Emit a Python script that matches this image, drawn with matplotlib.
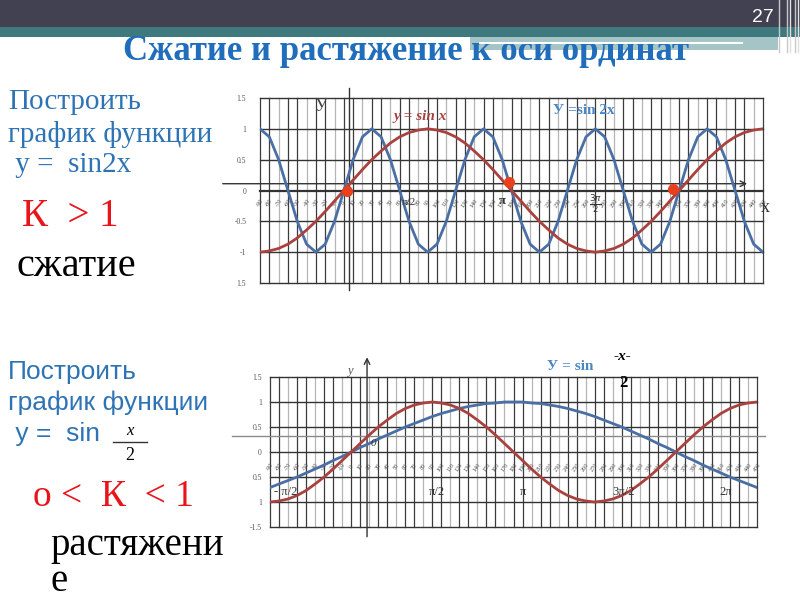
import matplotlib
matplotlib.use('Agg')
import matplotlib.pyplot as plt
from matplotlib.patches import Rectangle
from matplotlib.lines import Line2D

# ---------------- data ----------------
x_deg = [-90, -80, -70, -60, -50, -40, -30, -20, -10, 0, 10, 20, 30, 40, 50, 60, 70, 80, 90,
         100, 110, 120, 130, 140, 150, 160, 170, 180, 190, 200, 210, 220, 230, 240, 250, 260,
         270, 280, 290, 300, 310, 320, 330, 340, 350, 360, 370, 380, 390, 400, 410, 420, 430,
         440, 450]

sin_x = [-1.0, -0.98, -0.94, -0.87, -0.77, -0.64, -0.5, -0.34, -0.17, 0.0, 0.17, 0.34, 0.5,
         0.64, 0.77, 0.87, 0.94, 0.98, 1.0, 0.98, 0.94, 0.87, 0.77, 0.64, 0.5, 0.34, 0.17, 0.0,
         -0.17, -0.34, -0.5, -0.64, -0.77, -0.87, -0.94, -0.98, -1.0, -0.98, -0.94, -0.87,
         -0.77, -0.64, -0.5, -0.34, -0.17, 0.0, 0.17, 0.34, 0.5, 0.64, 0.77, 0.87, 0.94, 0.98,
         1.0]

blue_top = [1.0, 0.87, 0.5, 0.0, -0.5, -0.87, -1.0, -0.87, -0.5, 0.0, 0.5, 0.87,
            1.0, 0.87, 0.5, 0.0, -0.5, -0.87, -1.0, -0.87, -0.5, 0.0, 0.5, 0.87,
            1.0, 0.87, 0.5, 0.0, -0.5, -0.87, -1.0, -0.87, -0.5, 0.0, 0.5, 0.87,
            1.0, 0.87, 0.5, 0.0, -0.5, -0.87, -1.0, -0.87, -0.5, 0.0, 0.5, 0.87,
            1.0, 0.87, 0.5, 0.0, -0.5, -0.87, -1.0]

sin_half_x = [-0.71, -0.64, -0.57, -0.5, -0.42, -0.34, -0.26, -0.17, -0.09, 0.0, 0.09, 0.17,
              0.26, 0.34, 0.42, 0.5, 0.57, 0.64, 0.71, 0.77, 0.82, 0.87, 0.91, 0.94, 0.97,
              0.98, 1.0, 1.0, 1.0, 0.98, 0.97, 0.94, 0.91, 0.87, 0.82, 0.77, 0.71, 0.64, 0.57,
              0.5, 0.42, 0.34, 0.26, 0.17, 0.09, 0.0, -0.09, -0.17, -0.26, -0.34, -0.42, -0.5,
              -0.57, -0.64, -0.71]

ytick_vals = [1.5, 1.0, 0.5, 0.0, -0.5, -1.0, -1.5]
top_ytick_labels = ['1.5', '1', '0.5', '0', '-0.5', '-1', '1.5']
bot_ytick_labels = ['1.5', '1', '0.5', '0', '0.5', '1', '-1.5']

dot_x = [3, 177, 353]
dot_y = [0.0, 0.13, 0.03]

bot_pi_labels = ['- π/2', 'π/2', 'π', '3π/2', '2π']
bot_pi_x = [-73, 95, 190, 302, 415]

RED = '#A9423F'
BLUE = '#4A6FA5'
TITLE_BLUE = '#1F6DBB'
TEXT_BLUE = '#2E74B5'
SERIF = 'Liberation Serif'
SANS = 'Liberation Sans'

fig = plt.figure(figsize=(8, 6), dpi=100)
fig.patch.set_facecolor('white')


def fx(px):
    return px / 800.0


def fy(py):
    return 1.0 - py / 600.0


def frect(x0, y0, x1, y1, color, z=0):
    fig.add_artist(Rectangle((fx(x0), fy(y1)), fx(x1) - fx(x0), fy(y0) - fy(y1),
                             transform=fig.transFigure, facecolor=color, edgecolor='none',
                             zorder=z))


def fline(x0, y0, x1, y1, color, lw, z=1):
    fig.add_artist(Line2D([fx(x0), fx(x1)], [fy(y0), fy(y1)], transform=fig.transFigure,
                          color=color, lw=lw, zorder=z))


# ---------------- header ----------------
frect(0, 0, 800, 27, '#414152')
frect(0, 27, 800, 37, '#3E7A7D')
frect(470, 37, 778, 50, '#A4C4C5')
fline(480, 43, 742, 43, 'white', 1.5, z=3)
for vx, c in [(779, '#C8C8C8'), (787, '#C8C8C8'), (790, '#E0E0E0'), (795, '#C8C8C8'),
              (798, '#E0E0E0')]:
    fline(vx, 0, vx, 52, c, 1.0, z=2)
fig.text(fx(763), fy(18), '27', color='white', fontsize=14, family=SANS,
         ha='center', va='center')
fig.text(fx(406), fy(52), 'Сжатие и растяжение к оси ординат', color=TITLE_BLUE,
         fontsize=25, family=SERIF, weight='bold', ha='center', va='center', zorder=2)

# ---------------- left texts ----------------
fig.text(fx(8), fy(102), 'Построить', color=TEXT_BLUE, fontsize=21, family=SERIF, va='center')
fig.text(fx(8), fy(134), 'график функции', color=TEXT_BLUE, fontsize=21, family=SERIF, va='center')
fig.text(fx(8), fy(165), ' y =  sin2x', color=TEXT_BLUE, fontsize=21, family=SERIF, va='center')
fig.text(fx(22), fy(216), 'К  > 1', color='#E8141A', fontsize=28, family=SERIF, va='center')
fig.text(fx(16), fy(266), 'сжатие', color='black', fontsize=29, family=SERIF, va='center')

fig.text(fx(8), fy(372), 'Построить', color=TEXT_BLUE, fontsize=19, family=SANS, va='center')
fig.text(fx(8), fy(403), 'график функции', color=TEXT_BLUE, fontsize=19, family=SANS, va='center')
fig.text(fx(8), fy(434), ' y =  sin', color=TEXT_BLUE, fontsize=19, family=SANS, va='center')
fig.text(fx(130), fy(431), 'x', color='black', fontsize=12, family=SERIF, style='italic',
         ha='center', va='center')
fline(113, 442, 147, 442, '#333333', 1.0)
fig.text(fx(130), fy(456), '2', color='black', fontsize=13, family=SERIF, ha='center', va='center')
fig.text(fx(33), fy(497), 'о <  К  < 1', color='#E8141A', fontsize=27, family=SERIF, va='center')
fig.text(fx(50), fy(555), 'растяжени', color='black', fontsize=28, family=SERIF, va='baseline')
fig.text(fx(50), fy(591), 'е', color='black', fontsize=28, family=SERIF, va='baseline')


def setup_axes(ax, ylabels, pad, zero_lw):
    ax.set_xlim(x_deg[0], x_deg[-1])
    ax.set_ylim(-1.5, 1.5)
    for s in ax.spines.values():
        s.set_visible(False)
    ax.set_xticks([])
    ax.set_yticks(ytick_vals)
    ax.set_yticklabels(ylabels, fontsize=5.5, family=SERIF, color='#555555')
    ax.tick_params(axis='y', length=0, pad=pad)
    for i, xv in enumerate(x_deg):
        c = '#B5B5B5' if i % 3 == 2 else '#3C3C3C'
        ax.axvline(xv, color=c, lw=0.9, zorder=1, clip_on=False)
    for yv in ytick_vals:
        lw = zero_lw if yv == 0 else 1.0
        ax.axhline(yv, color='#333333', lw=lw, zorder=1, clip_on=False)


# ---------------- top chart ----------------
ax1 = fig.add_axes([fx(260), fy(283), fx(763) - fx(260), fy(98) - fy(283)])
setup_axes(ax1, top_ytick_labels, 10, 1.6)
for xv in x_deg:
    ax1.text(xv, -0.2, str(xv), fontsize=4.5, color='#555555', rotation=55,
             ha='center', va='center', family=SERIF, zorder=2)
ax1.plot(x_deg, blue_top, color=BLUE, lw=2.0, zorder=4)
ax1.plot(x_deg, sin_x, color=RED, lw=2.0, zorder=5)
ax1.plot(dot_x, dot_y, 'o', color='#E8401C', ms=7, zorder=6, clip_on=False)
# overlaid axis arrows
ax1.plot([5.5, 5.5], [1.66, -1.62], color='#333333', lw=1.0, zorder=3, clip_on=False)
ax1.annotate('', xy=(436, 0.11), xytext=(-133, 0.11),
             arrowprops=dict(arrowstyle='->', color='#333333', lw=1.0), annotation_clip=False)
ax1.text(-25, 1.37, 'У', fontsize=13, family=SERIF, color='#444444', ha='center', va='center')
ax1.text(452, -0.27, 'x', fontsize=13, family=SERIF, color='#333333', ha='center', va='center')
ax1.text(82, 1.2, 'y = sin x', fontsize=11, family=SERIF, style='italic', weight='bold',
         color=RED, ha='center', va='center', zorder=6)
ax1.text(258, 1.3, 'У =sin 2x', fontsize=11, family=SERIF, weight='bold',
         color='#4A86C5', ha='center', va='center', zorder=6)
ax1.text(70, -0.2, 'π/2', fontsize=8, family=SERIF, color='#333333', ha='center', va='center', zorder=6)
ax1.text(170, -0.17, 'π', fontsize=9, family=SERIF, color='#333333', weight='bold',
         ha='center', va='center', zorder=6)
ax1.text(270, -0.22, r'$\frac{3\pi}{2}$', fontsize=9, color='#333333', ha='center', va='center', zorder=6)

# ---------------- bottom chart ----------------
ax2 = fig.add_axes([fx(270), fy(527), fx(757) - fx(270), fy(377) - fy(527)])
setup_axes(ax2, bot_ytick_labels, 6, 1.0)
for xv in x_deg:
    ax2.text(xv, -0.3, str(xv), fontsize=4.5, color='#555555', rotation=55,
             ha='center', va='center', family=SERIF, zorder=2)
ax2.plot(x_deg, sin_half_x, color=BLUE, lw=2.0, zorder=4)
ax2.plot(x_deg, sin_x, color=RED, lw=2.0, zorder=5)
ax2.plot([-132, 459], [0.32, 0.32], color='#8A8A8A', lw=1.0, zorder=3, clip_on=False)
ax2.annotate('', xy=(17.6, 1.95), xytext=(17.6, -1.75),
             arrowprops=dict(arrowstyle='->', color='#333333', lw=1.0), annotation_clip=False)
ax2.text(-2, 1.62, 'y', fontsize=9, family=SERIF, style='italic', color='#555555',
         ha='center', va='center')
ax2.text(25, 0.16, '0', fontsize=8, family=SERIF, style='italic', color='#333333',
         ha='center', va='center', zorder=6)
for lab, xv in zip(bot_pi_labels, bot_pi_x):
    ax2.text(xv, -0.8, lab, fontsize=9, family=SERIF, color='#333333',
             ha='center', va='center', zorder=6)

fig.text(fx(570), fy(367), 'У = sin', fontsize=11, family=SERIF, weight='bold',
         color='#4A86C5', ha='center', va='center')
fig.text(fx(623), fy(357), '-x-', fontsize=11, family=SERIF, style='italic', weight='bold',
         color='black', ha='center', va='center')
fig.text(fx(623), fy(383), '2', fontsize=12, family=SERIF, weight='bold',
         color='black', ha='center', va='center')

fig.savefig('out.png', dpi=100)
